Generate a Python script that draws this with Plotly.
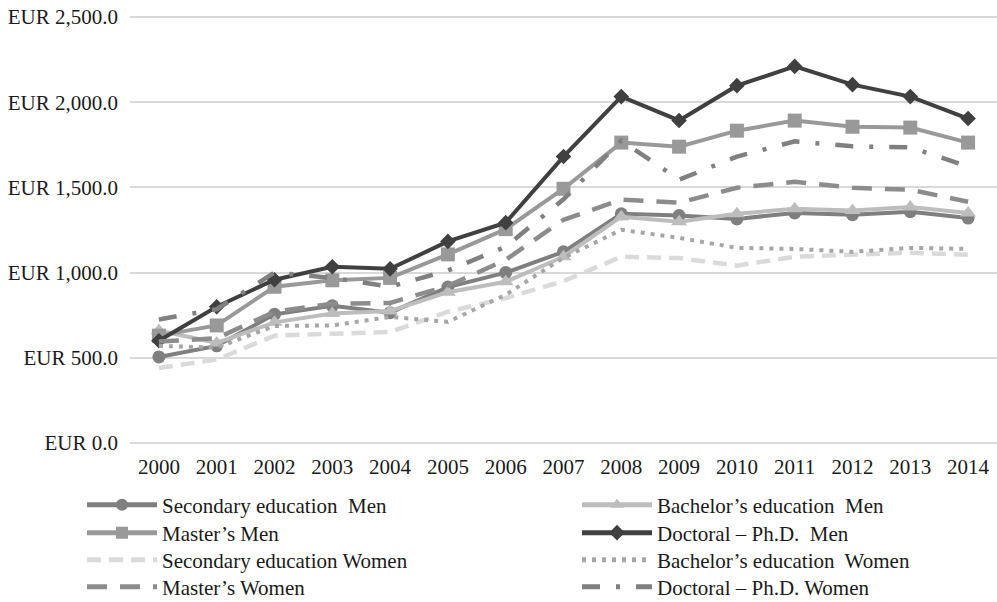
import plotly.graph_objects as go

years = [str(y) for y in range(2000, 2015)]

secondary_men = [505, 570, 755, 805, 765, 915, 1000, 1122, 1345, 1335, 1315, 1350, 1340, 1357, 1320]
bachelor_men = [660, 587, 708, 760, 775, 885, 946, 1093, 1328, 1299, 1345, 1375, 1365, 1385, 1350]
masters_men = [630, 690, 917, 955, 969, 1107, 1255, 1492, 1763, 1739, 1833, 1892, 1856, 1851, 1763]
doctoral_men = [600, 800, 958, 1034, 1022, 1183, 1293, 1681, 2033, 1893, 2097, 2210, 2103, 2033, 1904]
secondary_women = [440, 490, 630, 640, 652, 770, 850, 950, 1093, 1085, 1041, 1093, 1105, 1116, 1105]
bachelor_women = [570, 560, 687, 690, 740, 711, 870, 1087, 1251, 1204, 1145, 1139, 1122, 1145, 1139]
masters_women = [595, 615, 770, 817, 822, 922, 1075, 1310, 1428, 1410, 1498, 1533, 1498, 1486, 1416]
doctoral_women = [725, 785, 1000, 969, 917, 1012, 1152, 1430, 1775, 1545, 1681, 1770, 1741, 1735, 1623]

y_ticks = [0, 500, 1000, 1500, 2000, 2500]
y_tick_labels = ["EUR 0.0", "EUR 500.0", "EUR 1,000.0", "EUR 1,500.0", "EUR 2,000.0", "EUR 2,500.0"]

FONT = "Liberation Serif, Times New Roman, serif"
TXT = "#1a1a1a"
FS = 21
W, H = 997, 602

# (name, values, line, marker, legend column, legend row)
series = [
    ("Secondary education  Men", secondary_men, dict(color="#7f7f7f", width=4), dict(symbol="circle", size=13, color="#7f7f7f"), 0, 0),
    ("Bachelor\u2019s education  Men", bachelor_men, dict(color="#bdbdbd", width=4), dict(symbol="triangle-up", size=14, color="#bdbdbd"), 1, 0),
    ("Master\u2019s Men", masters_men, dict(color="#999999", width=4), dict(symbol="square", size=14, color="#999999"), 0, 1),
    ("Doctoral \u2013 Ph.D.  Men", doctoral_men, dict(color="#404040", width=4), dict(symbol="diamond", size=12, color="#404040"), 1, 1),
    ("Secondary education Women", secondary_women, dict(color="#dadada", width=4.5, dash="14px,8px"), None, 0, 2),
    ("Bachelor\u2019s education  Women", bachelor_women, dict(color="#a6a6a6", width=4, dash="4px,6px"), None, 1, 2),
    ("Master\u2019s Women", masters_women, dict(color="#8c8c8c", width=4.5, dash="20px,13px"), None, 0, 3),
    ("Doctoral \u2013 Ph.D. Women", doctoral_women, dict(color="#808080", width=4.5, dash="18px,16px,4px,16px"), None, 1, 3),
]

legend_col_x = [82, 577]          # window px
legend_row_y = [505, 533, 560, 587]

fig = go.Figure()
legends = {}
for i, (name, vals, line, marker, col, row) in enumerate(series):
    lname = "legend" if i == 0 else f"legend{i + 1}"
    kw = dict(x=years, y=vals, name=name, line=line, legend=lname)
    if marker is not None:
        fig.add_trace(go.Scatter(mode="lines+markers", marker=marker, **kw))
    else:
        fig.add_trace(go.Scatter(mode="lines", **kw))
    legends[lname] = dict(
        xref="container", yref="container",
        x=legend_col_x[col] / W, y=1 - legend_row_y[row] / H,
        xanchor="left", yanchor="middle",
        font=dict(family=FONT, size=FS, color=TXT),
        bgcolor="rgba(0,0,0,0)", itemsizing="constant",
        itemwidth=70,
    )

# keep the top gridline slightly inside the plot area so it is drawn
plot_bottom, grid_top, top_margin = 443, 17, 15
units_per_px = 2500 / (plot_bottom - grid_top)
y_max = 2500 + (grid_top - top_margin) * units_per_px

fig.update_layout(
    width=W, height=H,
    margin=dict(l=130, r=0, t=top_margin, b=H - plot_bottom, autoexpand=False),
    paper_bgcolor="white", plot_bgcolor="white",
    font=dict(family=FONT, size=FS, color=TXT),
    showlegend=True,
    xaxis=dict(
        type="category", range=[-0.5, len(years) - 0.5],
        showgrid=False, zeroline=False, showline=False,
        ticks="", tickfont=dict(family=FONT, size=FS, color=TXT),
        ticklabelstandoff=9,
    ),
    yaxis=dict(
        range=[0, y_max], tickvals=y_ticks, ticktext=y_tick_labels,
        showgrid=True, gridcolor="#d9d9d9", gridwidth=1.5,
        zeroline=True, zerolinecolor="#d9d9d9", zerolinewidth=1.5,
        showline=False, ticks="",
        tickfont=dict(family=FONT, size=FS, color=TXT),
        ticklabelstandoff=11,
    ),
    **legends,
)

fig.write_html(
    "out.html",
    config={"displayModeBar": False},
    post_script="document.body.style.margin='0';document.body.style.overflow='hidden';",
)
